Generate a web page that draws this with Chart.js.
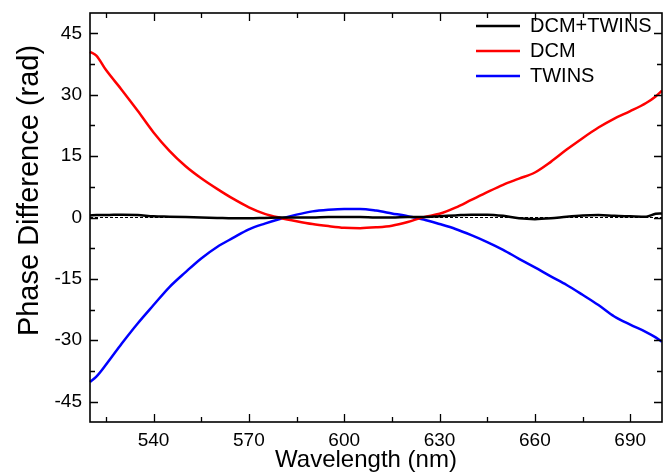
<!DOCTYPE html>
<html>
<head>
<meta charset="utf-8">
<script src="https://cdn.jsdelivr.net/npm/chart.js@4.4.0/dist/chart.umd.min.js"></script>
<style>
html,body{margin:0;padding:0;background:#fff;}
#wrap{width:667px;height:474px;}
</style>
</head>
<body>
<div id="wrap"><canvas id="c" width="667" height="474"></canvas></div>
<script>
// ---- data ----
const wavelength = [520,522,525,530,535,540,545,550,555,560,565,570,575,580,585,590,595,600,605,610,615,620,625,630,635,640,645,650,655,660,665,670,675,680,685,690,695,698,700];
const dcmTwins = [0.5,0.6,0.6,0.7,0.6,0.3,0.2,0.1,0.0,-0.1,-0.2,-0.2,-0.1,0.0,0.0,0.0,0.1,0.1,0.1,0.0,0.0,0.1,0.1,0.3,0.5,0.7,0.7,0.4,-0.2,-0.4,-0.2,0.2,0.5,0.6,0.4,0.3,0.2,0.9,1.0];
const dcm = [40.5,39.6,36.1,31.2,26.1,20.8,16.3,12.6,9.6,7.0,4.6,2.5,0.9,-0.1,-0.9,-1.6,-2.1,-2.5,-2.6,-2.4,-2.0,-1.1,0.1,0.9,2.4,4.3,6.2,8.0,9.5,11.0,13.6,16.6,19.4,22.0,24.2,26.0,28.0,29.6,31.0];
const twins = [-40.2,-38.9,-36.0,-30.8,-25.9,-21.4,-17.0,-13.4,-10.0,-7.2,-5.0,-2.9,-1.5,-0.3,0.7,1.5,1.9,2.1,2.1,1.7,1.0,0.3,-0.5,-1.6,-2.8,-4.3,-6.0,-7.9,-10.1,-12.2,-14.4,-16.5,-18.9,-21.4,-24.2,-26.2,-28.0,-29.3,-30.4];
const seriesNames = ['DCM+TWINS','DCM','TWINS'];
const xTicks = [540,570,600,630,660,690];
const yTicks = [-45,-30,-15,0,15,30,45];
const xRange = [520,700];
const yRange = [-50,50];

const FONT = "'Liberation Sans', Arial, Helvetica, sans-serif";
Chart.defaults.font.family = FONT;
Chart.defaults.color = '#000';

const pts = arr => wavelength.map((w,i) => ({x:w, y:arr[i]}));

// frame with inward ticks on all four sides
const frameTicks = {
  id: 'frameTicks',
  afterDatasetsDraw(chart) {
    const {ctx, chartArea: a, scales: {x, y}} = chart;
    const xStep = xTicks[1]-xTicks[0], yStep = yTicks[1]-yTicks[0];
    const xMinor = [], yMinor = [];
    for (let v = xTicks[0]-xStep/2; v <= xRange[1]; v += xStep) if (v >= xRange[0]) xMinor.push(v);
    for (let v = yTicks[0]-yStep/2; v <= yRange[1]; v += yStep) if (v >= yRange[0]) yMinor.push(v);
    ctx.save();
    ctx.strokeStyle = '#000';
    ctx.lineWidth = 1.3;
    ctx.beginPath();
    const vt = (v, len) => { const p = Math.round(x.getPixelForValue(v))+0.5;
      ctx.moveTo(p, a.bottom); ctx.lineTo(p, a.bottom-len);
      ctx.moveTo(p, a.top); ctx.lineTo(p, a.top+len); };
    const ht = (v, len) => { const p = Math.round(y.getPixelForValue(v))+0.5;
      ctx.moveTo(a.left, p); ctx.lineTo(a.left+len, p);
      ctx.moveTo(a.right, p); ctx.lineTo(a.right-len, p); };
    xTicks.forEach(v => vt(v, 8));
    xMinor.forEach(v => vt(v, 5));
    yTicks.forEach(v => ht(v, 8));
    yMinor.forEach(v => ht(v, 5));
    ctx.stroke();
    ctx.lineWidth = 1.6;
    ctx.strokeRect(a.left, a.top, a.right-a.left, a.bottom-a.top);
    ctx.restore();
  }
};

// place the legend at the top-right inside the plot, and nudge the axis titles
const placeBoxes = {
  id: 'placeBoxes',
  afterLayout(chart) {
    const lg = chart.legend, a = chart.chartArea;
    if (lg) {
      const w = lg.width, h = lg.height;
      lg.left = a.right - 191;
      lg.right = lg.left + w;
      lg.top = a.top - 2;
      lg.bottom = lg.top + h;
    }
    // titles are centred on the scale box; shift their centres like the reference
    chart.scales.y.top -= 54;
    chart.scales.x.left -= 20;
  }
};

new Chart(document.getElementById('c'), {
  type: 'line',
  data: {
    datasets: [
      {label: seriesNames[0], data: pts(dcmTwins), borderColor: '#000000', borderWidth: 2.5, pointRadius: 0, cubicInterpolationMode: 'monotone', fill: false},
      {label: seriesNames[1], data: pts(dcm), borderColor: '#ff0000', borderWidth: 2.5, pointRadius: 0, cubicInterpolationMode: 'monotone', fill: false},
      {label: seriesNames[2], data: pts(twins), borderColor: '#0000ff', borderWidth: 2.5, pointRadius: 0, cubicInterpolationMode: 'monotone', fill: false},
      {label: 'zero', data: [{x:xRange[0], y:0},{x:xRange[1], y:0}], borderColor: '#000', borderWidth: 1, borderDash: [3,2], pointRadius: 0, fill: false, order: 10}
    ]
  },
  options: {
    responsive: false,
    animation: false,
    devicePixelRatio: 1,
    layout: {padding: {left: 0, right: 5, top: 13, bottom: 0}},
    plugins: {
      tooltip: {enabled: false},
      legend: {
        position: 'chartArea',
        fullSize: false,
        align: 'start',
        labels: {
          usePointStyle: true, pointStyle: 'line',
          boxWidth: 44, pointStyleWidth: 44, padding: 5,
          color: '#000', font: {size: 20, family: FONT},
          filter: item => item.datasetIndex < 3
        }
      }
    },
    scales: {
      x: {
        type: 'linear', min: xRange[0], max: xRange[1],
        afterBuildTicks: s => { s.ticks = xTicks.map(v => ({value: v})); },
        afterFit: s => { s.height = 52; s.paddingLeft = 0; s.paddingRight = 0; },
        grid: {display: false, drawTicks: false},
        border: {display: false},
        ticks: {color: '#000', font: {size: 19, family: FONT}, padding: 7, maxRotation: 0, autoSkip: false},
        title: {display: true, text: 'Wavelength (nm)', color: '#000', font: {size: 24, family: FONT, lineHeight: 1}, padding: {top: 0, bottom: 2}}
      },
      y: {
        type: 'linear', min: yRange[0], max: yRange[1],
        afterBuildTicks: s => { s.ticks = yTicks.map(v => ({value: v})); },
        afterFit: s => { s.width = 90; s.paddingTop = 0; s.paddingBottom = 0; },
        grid: {display: false, drawTicks: false},
        border: {display: false},
        ticks: {color: '#000', font: {size: 19, family: FONT}, padding: 8, autoSkip: false},
        title: {display: true, text: 'Phase Difference (rad)', color: '#000', font: {size: 29, family: FONT}, padding: {top: 13, bottom: 0}}
      }
    }
  },
  plugins: [frameTicks, placeBoxes]
});
</script>
</body>
</html>
